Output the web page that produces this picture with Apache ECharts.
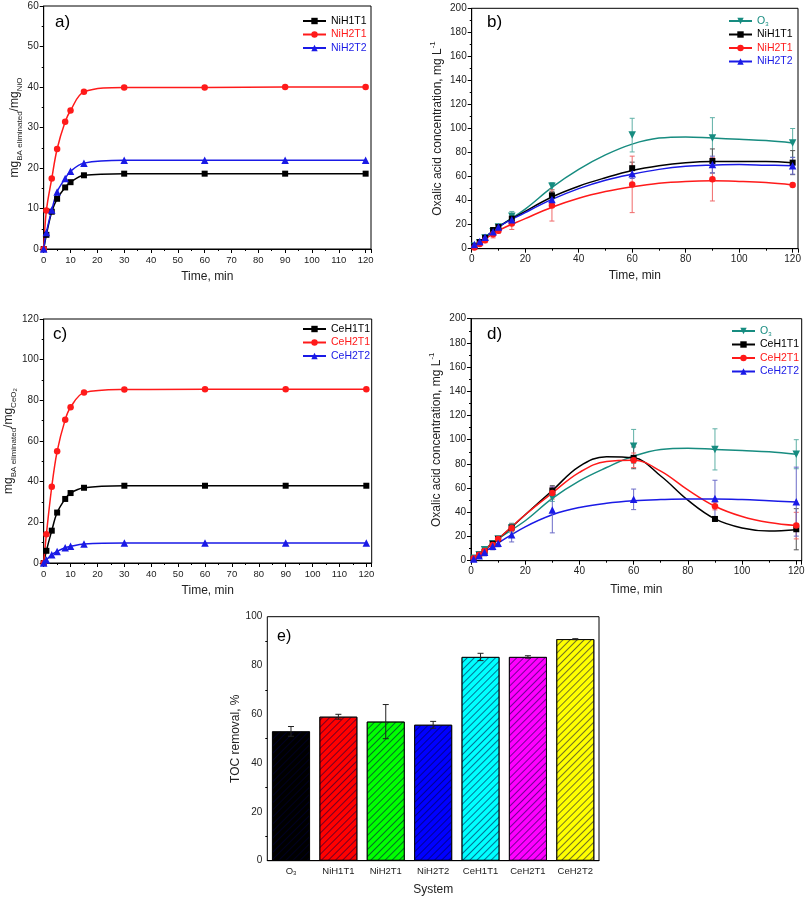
<!DOCTYPE html>
<html><head><meta charset="utf-8">
<script src="https://cdn.jsdelivr.net/npm/echarts@6/dist/echarts.min.js"></script>
<style>html,body{margin:0;padding:0;background:#fff}#c{width:808px;height:903px}</style>
</head><body><div id="c"></div>
<script>
// ---------- DATA ----------
// Panel a (NiO catalysts, BA eliminated per mg NiO)
const timeAC = [0, 1, 3, 5, 8, 10, 15, 30, 60, 90, 120];
const aNiH1T1 = [0, 3.5, 9.2, 12.4, 15.2, 16.5, 18.2, 18.6, 18.6, 18.6, 18.6];
const aNiH2T1 = [0, 9.5, 17.4, 24.7, 31.4, 34.2, 38.8, 39.9, 39.9, 40, 40];
const aNiH2T2 = [0, 4.1, 9.6, 14.1, 17.4, 19.2, 21.2, 21.9, 21.9, 21.9, 21.9];
// Panel c (CeO2 catalysts)
const cCeH1T1 = [0, 6, 15.9, 24.8, 31.5, 34.4, 37, 38, 38, 38, 38];
const cCeH2T1 = [0, 14.1, 37.5, 54.9, 70.5, 76.6, 83.8, 85.3, 85.5, 85.5, 85.5];
const cCeH2T2 = [0, 1.5, 4.1, 5.7, 7.5, 8.2, 9.3, 9.8, 9.8, 9.8, 9.8];
// Panels b & d : oxalic acid, measured points
const timeBD = [1, 3, 5, 8, 10, 15, 30, 60, 90, 120];
const O3pts = [2, 5, 9, 14, 18, 27, 52, 94.5, 92, 88];
const O3err = [1, 1, 2, 2, 2, 4, 3, 14, 17, 12];
const bNiH1T1 = [2, 5.5, 9, 15.5, 18, 25, 44.4, 67, 73, 71.6];
const bNiH1T1err = [1, 1, 2, 2, 2, 3, 3, 5, 10, 10];
const bNiH2T1 = [1, 4, 7, 12, 15, 21, 36, 53.5, 57.7, 53];
const bNiH2T1err = [1, 1, 2, 3, 2, 5, 13, 23.5, 18, 1];
const bNiH2T2 = [3.5, 6, 9.5, 14, 18, 24, 41, 62.4, 70, 69];
const bNiH2T2err = [1, 1, 2, 2, 2, 3, 3, 4, 7, 7];
const dCeH1T1 = [1.5, 4.5, 7.5, 14, 18, 27.3, 58, 85, 34.5, 26];
const dCeH1T1err = [1, 1, 2, 2, 2, 3, 4, 9, 2, 17];
const dCeH2T1 = [2, 5, 8, 13, 18, 27, 56, 83, 45, 29];
const dCeH2T1err = [1, 1, 2, 2, 2, 3, 5, 6, 3, 11];
const dCeH2T2 = [1.5, 4, 7, 12, 14.5, 21.5, 42, 50.7, 51.5, 48.8];
const dCeH2T2err = [1, 1, 3, 3, 3, 6, 19, 8.5, 15, 28.5];
// Panels b & d : fitted curves
const curveX = [0, 10, 20, 30, 40, 50, 60, 70, 80, 90, 100, 110, 120];
const O3fit = [0, 18, 33, 51, 66, 78, 87, 92, 93, 92, 91, 90, 88];
const bNiH1T1fit = [0, 18, 31, 43, 52, 59, 65, 69, 71.5, 72.5, 72.5, 72.5, 71.5];
const bNiH2T1fit = [0, 15, 25, 34.5, 42, 47.5, 51.5, 54.5, 56, 56.5, 56, 55, 53];
const bNiH2T2fit = [0, 18, 30, 41, 50, 57, 62, 66, 68.5, 69.5, 70, 69.5, 69];
const dO3fit = [0, 18, 33, 51.5, 66, 77, 86.5, 92, 93, 92, 91, 90, 88];
const dCeH1T1fit = [0, 18, 38, 58, 78, 86, 85, 70, 50, 34.5, 27, 24.5, 25.5];
const dCeH2T1fit = [0, 18, 38, 56, 73, 82, 83, 74, 58.5, 45, 36.5, 31.5, 29];
const dCeH2T2fit = [0, 14.5, 28, 38, 44, 47.5, 49.5, 50.5, 51, 51, 50.5, 49.5, 48.5];
// Panel e : TOC removal
const systems = ['O3', 'NiH1T1', 'NiH2T1', 'NiH2T2', 'CeH1T1', 'CeH2T1', 'CeH2T2'];
const tocRemoval = [53, 59, 57, 55.7, 83.5, 83.5, 90.8];
const tocErr = [2, 1, 7, 1.4, 1.5, 0.5, 0.2];
const barColors = ['#000000', '#ff0000', '#00ff00', '#0000ff', '#00ffff', '#ff00ff', '#ffff00'];

// ---------- STYLE ----------
const F = 'Liberation Sans, Arial, sans-serif';
const COL = {black: '#000000', red: '#ff1a1a', blue: '#1a1ae6', teal: '#178c80'};
const ERRC = {black: '#555555', red: '#f06a6a', blue: '#6b6bc8', teal: '#5fb0a6'};
const SYM = {sq: 'rect', ci: 'circle', up: 'triangle', dn: 'path://M0,0L10,0L5,8.7Z'};
const SZ = {sq: 6, ci: 6.5, up: 7.5, dn: 7.5};

function pairs(xs, ys) { return xs.map((x, i) => [x, ys[i]]); }

function lineWithPts(name, xs, ys, c, s, gi) {
  return {type: 'line', name, xAxisIndex: gi, yAxisIndex: gi, data: pairs(xs, ys), smooth: 0.35,
    symbol: SYM[s], symbolSize: SZ[s], showSymbol: true, lineStyle: {color: COL[c], width: 1.5},
    itemStyle: {color: COL[c]}, silent: true, z: 3};
}
function fitLine(name, xs, ys, c, s, gi) {
  return {type: 'line', name, xAxisIndex: gi, yAxisIndex: gi, data: pairs(xs, ys), smooth: 0.4,
    symbol: SYM[s], symbolSize: SZ[s], showSymbol: false, lineStyle: {color: COL[c], width: 1.5},
    itemStyle: {color: COL[c]}, silent: true, z: 2};
}
function pts(name, xs, ys, c, s, gi) {
  return {type: 'scatter', name, xAxisIndex: gi, yAxisIndex: gi, data: pairs(xs, ys),
    symbol: SYM[s], symbolSize: SZ[s], itemStyle: {color: COL[c], opacity: 1}, silent: true, z: 4};
}
function errBars(xs, ys, es, color, gi, half) {
  return {type: 'custom', xAxisIndex: gi, yAxisIndex: gi, silent: true, z: 3,
    data: xs.map((x, i) => [x, ys[i] - es[i], ys[i] + es[i]]),
    renderItem: (p, api) => {
      const x = api.value(0);
      const lo = api.coord([x, api.value(1)]);
      const hi = api.coord([x, api.value(2)]);
      const st = {stroke: color, lineWidth: 1};
      return {type: 'group', children: [
        {type: 'line', shape: {x1: lo[0], y1: lo[1], x2: hi[0], y2: hi[1]}, style: st},
        {type: 'line', shape: {x1: lo[0] - half, y1: lo[1], x2: lo[0] + half, y2: lo[1]}, style: st},
        {type: 'line', shape: {x1: hi[0] - half, y1: hi[1], x2: hi[0] + half, y2: hi[1]}, style: st}
      ]};
    }};
}

const axLine = {lineStyle: {color: '#000', width: 1}};
const tick = {length: 4, lineStyle: {color: '#000'}};
const minor = {show: true, splitNumber: 2, length: 2, lineStyle: {color: '#000'}};
const richSub = {
  m: {fontSize: 12, fontFamily: F, color: '#222', lineHeight: 18, verticalAlign: 'middle'},
  s: {fontSize: 8, fontFamily: F, color: '#222', lineHeight: 9, verticalAlign: 'bottom'},
  ss: {fontSize: 6, fontFamily: F, color: '#222', lineHeight: 6, verticalAlign: 'bottom'},
  p: {fontSize: 8, fontFamily: F, color: '#222', lineHeight: 9, verticalAlign: 'top'}
};

function timeAxis(gi, interval, fs, gap) {
  return {type: 'value', gridIndex: gi, min: 0, max: 122, interval,
    name: 'Time, min', nameLocation: 'middle', nameGap: gap,
    nameTextStyle: {fontSize: 12, color: '#222', fontFamily: F},
    axisLine: axLine, axisTick: tick, minorTick: minor, splitLine: {show: false},
    axisLabel: {fontSize: fs, color: '#222', fontFamily: F, margin: 6,
      formatter: v => (v % interval === 0 ? String(v) : '')}};
}
function valAxis(gi, max, interval, name, gap) {
  return {type: 'value', gridIndex: gi, min: 0, max, interval,
    name, nameLocation: 'middle', nameGap: gap, nameRotate: 90,
    nameTextStyle: {fontSize: 12, color: '#222', fontFamily: F, rich: richSub},
    axisLine: axLine, axisTick: tick, minorTick: minor, splitLine: {show: false},
    axisLabel: {fontSize: 10, color: '#222', fontFamily: F, margin: 5}};
}

function legendFor(left, top, items) {
  return {left, top, orient: 'vertical', padding: 0, itemWidth: 23, itemHeight: 8, itemGap: 1.5,
    selectedMode: false, textStyle: {fontSize: 10.5, fontFamily: F, lineHeight: 12,
      rich: {n: {fontSize: 10.5, fontFamily: F, lineHeight: 12}, s: {fontSize: 6, fontFamily: F, lineHeight: 6, verticalAlign: 'bottom'}}},
    formatter: n => (n === 'O3' ? '{n|O}{s|3}' : n),
    data: items.map(([name, c]) => ({name, textStyle: {color: COL[c]}}))};
}

const series = [
  // a
  lineWithPts('NiH1T1', timeAC, aNiH1T1, 'black', 'sq', 0),
  lineWithPts('NiH2T1', timeAC, aNiH2T1, 'red', 'ci', 0),
  lineWithPts('NiH2T2', timeAC, aNiH2T2, 'blue', 'up', 0),
  // b
  fitLine('O3', curveX, O3fit, 'teal', 'dn', 1),
  fitLine('NiH1T1', curveX, bNiH1T1fit, 'black', 'sq', 1),
  fitLine('NiH2T1', curveX, bNiH2T1fit, 'red', 'ci', 1),
  fitLine('NiH2T2', curveX, bNiH2T2fit, 'blue', 'up', 1),
  errBars(timeBD, O3pts, O3err, ERRC.teal, 1, 2.5),
  errBars(timeBD, bNiH1T1, bNiH1T1err, ERRC.black, 1, 2.5),
  errBars(timeBD, bNiH2T1, bNiH2T1err, ERRC.red, 1, 2.5),
  errBars(timeBD, bNiH2T2, bNiH2T2err, ERRC.blue, 1, 2.5),
  pts('O3', timeBD, O3pts, 'teal', 'dn', 1),
  pts('NiH1T1', timeBD, bNiH1T1, 'black', 'sq', 1),
  pts('NiH2T1', timeBD, bNiH2T1, 'red', 'ci', 1),
  pts('NiH2T2', timeBD, bNiH2T2, 'blue', 'up', 1),
  // c
  lineWithPts('CeH1T1', timeAC, cCeH1T1, 'black', 'sq', 2),
  lineWithPts('CeH2T1', timeAC, cCeH2T1, 'red', 'ci', 2),
  lineWithPts('CeH2T2', timeAC, cCeH2T2, 'blue', 'up', 2),
  // d
  fitLine('O3', curveX, dO3fit, 'teal', 'dn', 3),
  fitLine('CeH1T1', curveX, dCeH1T1fit, 'black', 'sq', 3),
  fitLine('CeH2T1', curveX, dCeH2T1fit, 'red', 'ci', 3),
  fitLine('CeH2T2', curveX, dCeH2T2fit, 'blue', 'up', 3),
  errBars(timeBD, O3pts, O3err, ERRC.teal, 3, 2.5),
  errBars(timeBD, dCeH1T1, dCeH1T1err, ERRC.black, 3, 2.5),
  errBars(timeBD, dCeH2T1, dCeH2T1err, ERRC.red, 3, 2.5),
  errBars(timeBD, dCeH2T2, dCeH2T2err, ERRC.blue, 3, 2.5),
  pts('O3', timeBD, O3pts, 'teal', 'dn', 3),
  pts('CeH1T1', timeBD, dCeH1T1, 'black', 'sq', 3),
  pts('CeH2T1', timeBD, dCeH2T1, 'red', 'ci', 3),
  pts('CeH2T2', timeBD, dCeH2T2, 'blue', 'up', 3),
  // e
  {type: 'bar', xAxisIndex: 4, yAxisIndex: 4, barWidth: '80%', silent: true,
    data: tocRemoval.map((v, i) => ({value: v, itemStyle: {color: barColors[i], borderColor: '#000', borderWidth: 0.8,
      decal: {symbol: 'rect', symbolSize: 1, dashArrayX: [1, 0], dashArrayY: [1, 4], rotation: -Math.PI / 4, color: 'rgba(0,0,60,0.55)'}}}))},
  errBars(systems.map((s, i) => i), tocRemoval, tocErr, '#222', 4, 3)
];

const option = {
  animation: false,
  backgroundColor: '#fff',
  grid: [
    {left: 43.7, top: 6, width: 327.3, height: 243},
    {left: 471.7, top: 8.3, width: 326.3, height: 240.4},
    {left: 43.7, top: 319, width: 328, height: 244},
    {left: 471, top: 318.7, width: 330.7, height: 242},
    {left: 267.3, top: 616.7, width: 331.7, height: 244}
  ].map(g => Object.assign(g, {show: true, borderColor: '#000', borderWidth: 1, backgroundColor: 'transparent'})),
  xAxis: [
    timeAxis(0, 10, 9.5, 22),
    timeAxis(1, 20, 10, 21),
    timeAxis(2, 10, 9.5, 22),
    timeAxis(3, 20, 10, 23),
    {type: 'category', gridIndex: 4, data: systems, name: 'System', nameLocation: 'middle', nameGap: 23,
      nameTextStyle: {fontSize: 12, color: '#222', fontFamily: F},
      axisLine: axLine, axisTick: {alignWithLabel: true, length: 4, lineStyle: {color: '#000'}},
      axisLabel: {fontSize: 9.5, color: '#222', fontFamily: F, margin: 6, interval: 0,
        formatter: v => (v === 'O3' ? '{n|O}{s|3}' : v),
        rich: {n: {fontSize: 9.5, fontFamily: F, color: '#222'}, s: {fontSize: 6, fontFamily: F, color: '#222', verticalAlign: 'bottom', lineHeight: 6}}}}
  ],
  yAxis: [
    valAxis(0, 60, 10, '{m|mg}{s|BA eliminated}{m|/mg}{s|NiO}', 19),
    valAxis(1, 200, 20, '{m|Oxalic acid concentration, mg L}{p|-1}', 25),
    valAxis(2, 120, 20, '{m|mg}{s|BA eliminated}{m|/mg}{s|CeO}{ss|2}', 19),
    valAxis(3, 200, 20, '{m|Oxalic acid concentration, mg L}{p|-1}', 25),
    valAxis(4, 100, 20, 'TOC removal, %', 25)
  ],
  legend: [
    legendFor(302, 15, [['NiH1T1', 'black'], ['NiH2T1', 'red'], ['NiH2T2', 'blue']]),
    legendFor(728, 15, [['O3', 'teal'], ['NiH1T1', 'black'], ['NiH2T1', 'red'], ['NiH2T2', 'blue']]),
    legendFor(302, 323, [['CeH1T1', 'black'], ['CeH2T1', 'red'], ['CeH2T2', 'blue']]),
    legendFor(731, 325, [['O3', 'teal'], ['CeH1T1', 'black'], ['CeH2T1', 'red'], ['CeH2T2', 'blue']])
  ],
  graphic: [
    {type: 'text', left: 55, top: 14, style: {text: 'a)', font: '17px ' + F, fill: '#000'}},
    {type: 'text', left: 487, top: 14, style: {text: 'b)', font: '17px ' + F, fill: '#000'}},
    {type: 'text', left: 53, top: 326, style: {text: 'c)', font: '17px ' + F, fill: '#000'}},
    {type: 'text', left: 487, top: 326, style: {text: 'd)', font: '17px ' + F, fill: '#000'}},
    {type: 'text', left: 277, top: 629, style: {text: 'e)', font: '16px ' + F, fill: '#000'}}
  ],
  series
};
const chart = echarts.init(document.getElementById('c'), null, {renderer: 'canvas'});
chart.setOption(option);
</script>
</body></html>
